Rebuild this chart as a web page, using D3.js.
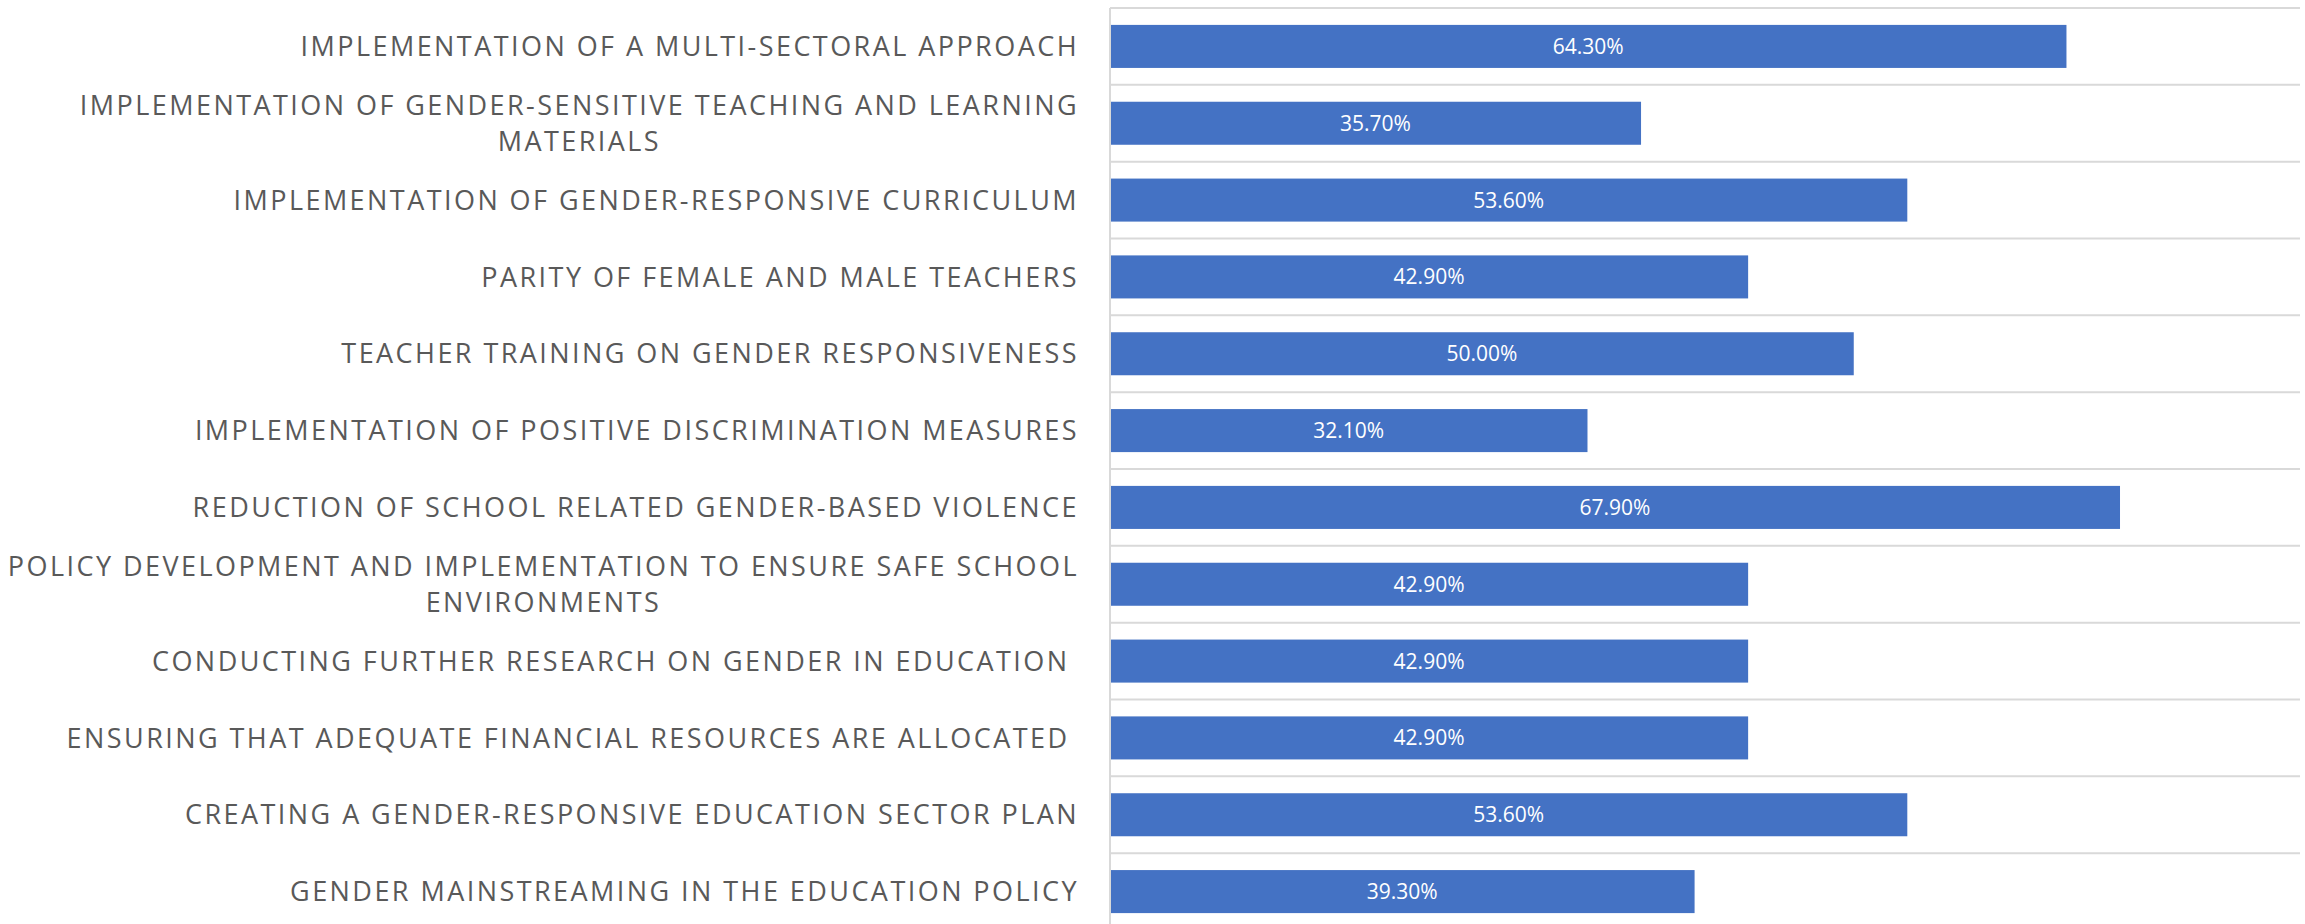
<!DOCTYPE html>
<html>
<head>
<meta charset="utf-8">
<script src="https://cdn.jsdelivr.net/npm/d3@7"></script>
<style>
  body { margin: 0; background: #fff; }
  svg text { white-space: pre; }
</style>
</head>
<body>
<script>
// categories, top to bottom as in the chart
var categories = [
  "IMPLEMENTATION OF A MULTI-SECTORAL APPROACH",
  "IMPLEMENTATION OF GENDER-SENSITIVE TEACHING AND LEARNING MATERIALS",
  "IMPLEMENTATION OF GENDER-RESPONSIVE CURRICULUM",
  "PARITY OF FEMALE AND MALE TEACHERS",
  "TEACHER TRAINING ON GENDER RESPONSIVENESS",
  "IMPLEMENTATION OF POSITIVE DISCRIMINATION MEASURES",
  "REDUCTION OF SCHOOL RELATED GENDER-BASED VIOLENCE",
  "POLICY DEVELOPMENT AND IMPLEMENTATION TO ENSURE SAFE SCHOOL ENVIRONMENTS",
  "CONDUCTING FURTHER RESEARCH ON GENDER IN EDUCATION ",
  "ENSURING THAT ADEQUATE FINANCIAL RESOURCES ARE ALLOCATED ",
  "CREATING A GENDER-RESPONSIVE EDUCATION SECTOR PLAN",
  "GENDER MAINSTREAMING IN THE EDUCATION POLICY"
];
var values = [0.643, 0.357, 0.536, 0.429, 0.500, 0.321, 0.679, 0.429, 0.429, 0.429, 0.536, 0.393];
var xDomain = [0, 0.8];

var W = 2305, H = 924;
var plotL = 1110, plotR = 2300, plotT = 8, plotB = 930;

var svg = d3.select('body').append('svg')
    .attr('width', W)
    .attr('height', H)
    .style('display', 'block');

var x = d3.scaleLinear().domain(xDomain).range([plotL, plotR]);
var y = d3.scaleBand().domain(categories).range([plotT, plotB]).paddingInner(0.44).paddingOuter(0.22);
var step = y.step();

// category gridlines at band boundaries
var edges = categories.map(function(c) { return y(c) - y.paddingOuter() * step; });
edges.push(plotB);
svg.append('g').selectAll('line')
    .data(edges)
    .enter().append('line')
    .attr('x1', plotL).attr('x2', plotR)
    .attr('y1', function(d) { return d; })
    .attr('y2', function(d) { return d; })
    .style('stroke', '#d9d9d9')
    .style('stroke-width', 2);

// bars
svg.append('g').selectAll('rect')
    .data(values)
    .enter().append('rect')
    .attr('x', x(0))
    .attr('y', function(d, i) { return y(categories[i]); })
    .attr('width', function(d) { return x(d) - x(0); })
    .attr('height', y.bandwidth())
    .style('fill', '#4472c4');

// vertical axis line
svg.append('line')
    .attr('x1', plotL).attr('x2', plotL)
    .attr('y1', plotT).attr('y2', plotB)
    .style('stroke', '#d9d9d9')
    .style('stroke-width', 2);

// value labels
svg.append('g').selectAll('text')
    .data(values)
    .enter().append('text')
    .attr('x', function(d) { return (x(0) + x(d)) / 2; })
    .attr('y', function(d, i) { return y(categories[i]) + y.bandwidth() / 2; })
    .attr('dy', '0.36em')
    .attr('text-anchor', 'middle')
    .style('font-family', '"Open Sans", sans-serif')
    .style('font-size', '21px')
    .style('fill', '#fff')
    .text(function(d) { return d3.format('.2%')(d); });

// category labels: calibrate letter spacing on the first label
var labelFont = '"Open Sans", sans-serif';
var labelSize = 27;
var labelRight = 1079;
var probe = svg.append('text')
    .style('font-family', labelFont)
    .style('font-size', labelSize + 'px')
    .text(categories[0]);
var natural = probe.node().getComputedTextLength();
probe.remove();
var ls = (776 - natural) / (categories[0].length - 1);

function measure(str) {
  var t = svg.append('text')
      .style('font-family', labelFont)
      .style('font-size', labelSize + 'px')
      .style('letter-spacing', ls + 'px')
      .text(str);
  var w = t.node().getComputedTextLength();
  t.remove();
  return w;
}

function wrap(str, maxW) {
  var words = str.split(' ');
  var lines = [], cur = '';
  words.forEach(function(w) {
    var test = cur ? cur + ' ' + w : w;
    if (cur && measure(test) > maxW) { lines.push(cur); cur = w; }
    else cur = test;
  });
  lines.push(cur);
  return lines;
}

var lineH = 36;
categories.forEach(function(c) {
  var lines = wrap(c, 1075);
  var cy = y(c) + y.bandwidth() / 2;
  var g = svg.append('g');
  if (lines.length === 1) {
    g.append('text')
        .attr('x', labelRight)
        .attr('y', cy)
        .attr('dy', '0.36em')
        .attr('text-anchor', 'end')
        .style('font-family', labelFont)
        .style('font-size', labelSize + 'px')
        .style('letter-spacing', ls + 'px')
        .style('fill', '#595959')
        .text(c);
  } else {
    var w0 = measure(lines[0]);
    var mid = labelRight - w0 / 2;
    lines.forEach(function(l, k) {
      g.append('text')
          .attr('x', mid)
          .attr('y', cy + (k - (lines.length - 1) / 2) * lineH)
          .attr('dy', '0.36em')
          .attr('text-anchor', 'middle')
          .style('font-family', labelFont)
          .style('font-size', labelSize + 'px')
          .style('letter-spacing', ls + 'px')
          .style('fill', '#595959')
          .text(l);
    });
  }
});
</script>
</body>
</html>
